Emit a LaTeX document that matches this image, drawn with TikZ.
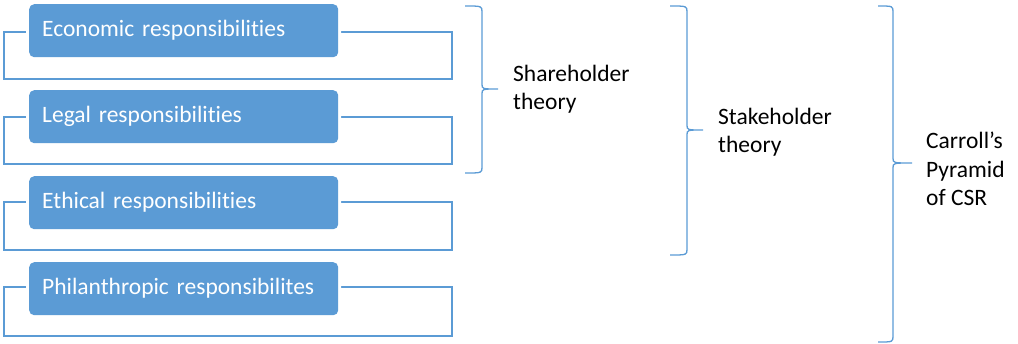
\documentclass[tikz,border=0pt]{standalone}
\usepackage{fontspec}
\setmainfont[Ligatures=NoCommon]{Carlito}
\definecolor{officeblue}{HTML}{5B9BD5}
\begin{document}
\begin{tikzpicture}[x=1pt, y=-1pt,
  respbox/.style={fill=officeblue, text=white, rounded corners=5pt,
    anchor=north west, minimum height=53pt, text width=283pt,
    inner xsep=13pt, inner ysep=0pt, align=left,
    font=\fontsize{23.5}{28.5}\selectfont,
    preaction={draw=white, line width=6pt}},
  frameline/.style={draw=officeblue, line width=2pt},
  bracket/.style={draw=officeblue, line width=1.3pt},
  theory/.style={anchor=west, align=left, inner sep=0pt,
    font=\fontsize{23.5}{28.5}\selectfont}]
\useasboundingbox (0,0) rectangle (1018,343);

% frames behind each responsibility box
\draw[frameline] (4,32) rectangle (452,79);
\draw[frameline] (4,117) rectangle (452,164);
\draw[frameline] (4,202) rectangle (452,250);
\draw[frameline] (4,287) rectangle (452,336);

% responsibility boxes
\node[respbox] (econ) at (29,4) {Economic responsibilities};
\node[respbox] (legal) at (29,90) {Legal responsibilities};
\node[respbox] (ethic) at (29,176) {Ethical responsibilities};
\node[respbox] (phil) at (29,262) {Philanthropic responsibilites};

% curly brackets: arm start x0, spine x1, tip x2, top, middle, bottom
\newcommand{\curlybracket}[6]{%
  \draw[bracket] (#1,#4) .. controls (#2,#4) .. (#2,#4+6)
    -- (#2,#5-5) .. controls (#2,#5) .. (#3,#5)
    .. controls (#2,#5) .. (#2,#5+5)
    -- (#2,#6-6) .. controls (#2,#6) .. (#1,#6);}
\curlybracket{465}{482}{498}{6}{89}{173}
\curlybracket{670}{687}{703}{6}{130}{255}
\curlybracket{878}{893}{912}{6}{163}{342}

% theory labels
\node[theory] (share) at (513,89) {Shareholder\\theory};
\node[theory] (stake) at (718,132) {Stakeholder\\theory};
\node[theory] (carroll) at (926,169) {Carroll’s\\Pyramid\\of CSR};
\end{tikzpicture}
\end{document}
